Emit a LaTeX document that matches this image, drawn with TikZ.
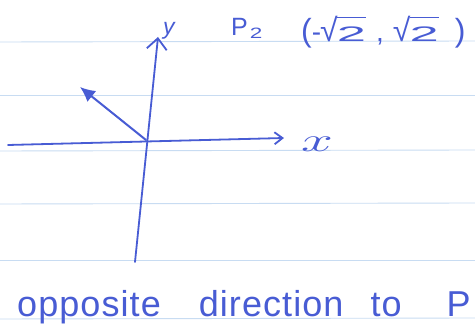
\documentclass[tikz,border=0pt]{standalone}
\usepackage{fontspec}
\setmainfont{Liberation Sans}
\usetikzlibrary{arrows.meta}
\definecolor{pen}{RGB}{72,92,212}
\definecolor{paperrule}{RGB}{200,220,242}
\newcommand\handroot[1]{\mbox{\setbox2\hbox{{\fontsize{32}{32}\selectfont √}}\copy2\kern-0.8pt\setbox0\hbox{#1}\rlap{\rule[\dimexpr\ht2-1.5pt\relax]{\wd0}{1.5pt}}\box0}}
\newcommand\widetwo[2]{\scalebox{#2}[1]{\fontsize{#1}{#1}\selectfont 2}}
\tikzset{
  ruleline/.style={paperrule, line width=0.9pt},
  axisline/.style={pen, line width=1.8pt, line cap=round},
  vecline/.style={pen, line width=2pt, line cap=round, -{Latex[length=15pt,width=14pt]}},
  hand/.style={pen, inner sep=0pt, anchor=base west},
}
\begin{document}
\begin{tikzpicture}[x=1pt,y=-1pt]
\useasboundingbox[fill=white] (0,0) rectangle (475,328);
% ruled paper lines
\draw[ruleline] (0,42) -- (475,41);
\draw[ruleline] (0,95) -- (475,95);
\draw[ruleline] (0,151) -- (475,150);
\draw[ruleline] (0,204) -- (475,203);
\draw[ruleline] (0,260) -- (475,260);
\draw[ruleline] (0,319) -- (475,318);
% axes
\coordinate (O) at (146,140);
\coordinate (xL) at (8,145);
\coordinate (xR) at (284,138);
\coordinate (yB) at (135,262);
\coordinate (yT) at (158,37);
\coordinate (P) at (80,87);
\draw[axisline, -{Straight Barb[length=8pt,width=12pt,line width=1.8pt]}] (xL) -- (xR);
\draw[axisline, -{Straight Barb[length=11pt,width=20pt,line width=1.8pt]}] (yB) -- (yT);
\draw[vecline] (O) -- (P);
% labels
\node[hand, font=\fontsize{32}{32}\selectfont] (xlab) at (301,152) {\scalebox{2.3}[1.35]{$x$}};
\node[hand, font=\itshape\fontsize{23}{23}\selectfont] (ylab) at (163,35) {y};
\node[hand, font=\fontsize{25}{25}\selectfont] (p2) at (231,36) {P\hspace{2pt}\raisebox{-3pt}{\widetwo{15}{1.5}}};
\node[hand, font=\fontsize{28}{28}\selectfont] (coords) at (301,42) {{\fontsize{32}{32}\selectfont(}-\kern-1pt\handroot{\widetwo{21}{2.5}}\hspace{10pt},\hspace{9pt}\handroot{\widetwo{21}{2.5}}\hspace{16pt}{\fontsize{32}{32}\selectfont)}};
\node[hand, font=\fontsize{36}{36}\selectfont\addfontfeatures{LetterSpace=3}] (caption) at (17,317) {opposite\hspace{38pt}direction\hspace{27pt}to\hspace{45pt}P};
\end{tikzpicture}
\end{document}
